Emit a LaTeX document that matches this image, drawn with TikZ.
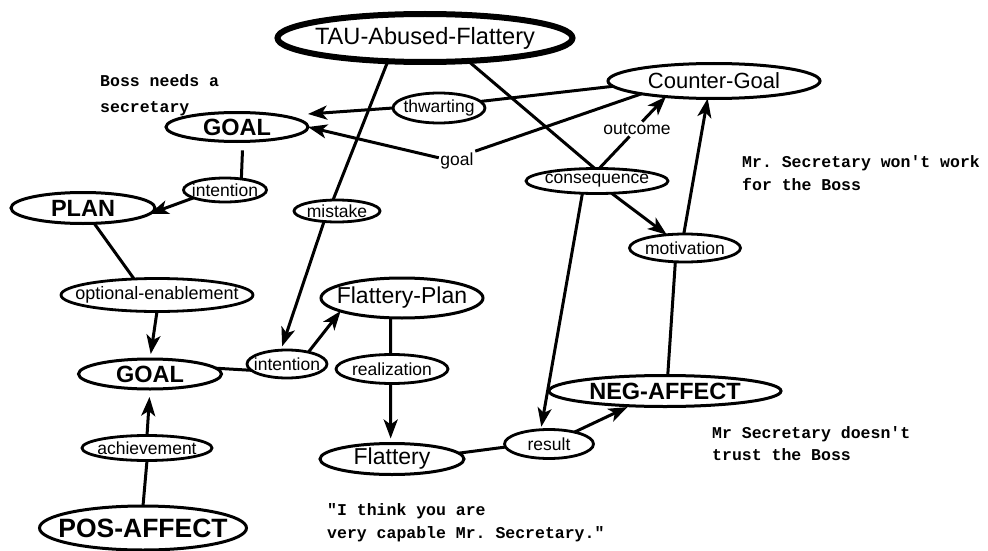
\documentclass[tikz,border=0pt]{standalone}
\usepackage{fontspec}
\setmainfont{Liberation Sans}
\setmonofont{Liberation Mono}
\usetikzlibrary{shapes.geometric,arrows.meta}

% font size shorthand (size in pt)
\newcommand{\fsz}[1]{\fontsize{#1}{#1}\selectfont}
% zero-width label so the ellipse keeps its given size
\newcommand{\nodetext}[1]{\makebox[0pt]{#1}}

\begin{document}
\begin{tikzpicture}[x=1pt,y=-1pt,
  bubble/.style={ellipse, draw, line width=3pt, inner sep=0pt, outer sep=0pt},
  concept/.style={bubble, font=\fsz{23}},
  strong/.style={bubble, font=\bfseries\fsz{23.5}},
  relation/.style={bubble, line width=2.8pt, font=\fsz{17.5}},
  tag/.style={inner sep=1.5pt, font=\fsz{17.5}},
  note/.style={anchor=base west, inner sep=0pt, font=\ttfamily\bfseries\fsz{16.5}},
  link/.style={line width=3pt},
  arrowlink/.style={link, -{Stealth[length=19pt,width=14pt,inset=5pt]}}
]
\fill[white] (0,0) rectangle (988,551);
\useasboundingbox (0,0) rectangle (988,551);

% ---- main concepts ----
\node[concept, line width=6pt, minimum width=295pt, minimum height=48pt, font=\fsz{23.6}]
  (tau) at (425,38) {\nodetext{TAU-Abused-Flattery}};
\node[strong, minimum width=142pt, minimum height=29pt] (goalA) at (237,127) {\nodetext{GOAL}};
\node[strong, minimum width=144pt, minimum height=31pt] (plan) at (83,208) {\nodetext{PLAN}};
\node[relation, minimum width=192pt, minimum height=33pt, font=\fsz{18}] (optEn) at (157,295) {\nodetext{optional-enablement}};
\node[strong, minimum width=143pt, minimum height=30pt] (goalB) at (150,374) {\nodetext{GOAL}};
\node[strong, minimum width=207pt, minimum height=44pt, font=\bfseries\fsz{26.5}] (posAff) at (143,528) {\nodetext{POS-AFFECT}};
\node[concept, minimum width=212pt, minimum height=35pt, font=\fsz{22}] (cg) at (714,81) {\nodetext{Counter-Goal}};
\node[concept, minimum width=162pt, minimum height=40pt] (fplan) at (402,298) {\nodetext{Flattery-Plan}};
\node[concept, minimum width=144pt, minimum height=31pt] (flat) at (392,459) {\nodetext{Flattery}};
\node[strong, minimum width=232pt, minimum height=31pt] (neg) at (665,391) {\nodetext{NEG-AFFECT}};

% ---- relation links ----
\node[relation, minimum width=92pt, minimum height=30pt] (thw) at (439,108) {\nodetext{thwarting}};
\node[relation, minimum width=83pt, minimum height=24pt] (intA) at (225,190) {\nodetext{intention}};
\node[relation, minimum width=86pt, minimum height=22pt] (mist) at (337,211) {\nodetext{mistake}};
\node[relation, minimum width=142pt, minimum height=25pt] (cons) at (597,181) {\nodetext{consequence}};
\node[relation, minimum width=111pt, minimum height=28pt] (motiv) at (685,248) {\nodetext{motivation}};
\node[relation, minimum width=80pt, minimum height=28pt] (intB) at (287,364) {\nodetext{intention}};
\node[relation, minimum width=112pt, minimum height=29pt] (real) at (392,369) {\nodetext{realization}};
\node[relation, minimum width=130pt, minimum height=25pt] (ach) at (147,448) {\nodetext{achievement}};
\node[relation, minimum width=89pt, minimum height=29pt] (res) at (549,444) {\nodetext{result}};

\node[tag] (goalLbl) at (457,161) {goal};
\node[tag] (outc) at (637,129) {outcome};

% ---- annotations ----
\node[note] (n1) at (100,86) {Boss needs a};
\node[note] (n2) at (100,112) {secretary};
\node[note] (n3) at (742,167) {Mr. Secretary won't work};
\node[note] (n4) at (742,190) {for the Boss};
\node[note] (n5) at (712,438) {Mr Secretary doesn't};
\node[note] (n6) at (712,460) {trust the Boss};
\node[note] (n7) at (327,515) {"I think you are};
\node[note] (n8) at (327,538) {very capable Mr. Secretary."};

% ---- connectors ----
\draw[link] (tau.212) -- (mist.110);
\draw[arrowlink, shorten >=4pt] (mist.219) -- (intB.114);
\draw[arrowlink] (intB.29) -- (fplan.192);
\draw[link] (goalB.5) -- (intB.190);
\draw[link, shorten <=9pt] (goalA.-68) -- (intA.34);
\draw[arrowlink] (intA.194) -- (plan.-5);
\draw[link] (plan.-54) -- (optEn.145);
\draw[arrowlink, shorten >=5pt] (optEn.south) -- (goalB.north);
\draw[arrowlink, shorten >=8pt] (ach.north) -- (goalB.south);
\draw[link] (posAff.north) -- (ach.south);
\draw[link] (cg.183) -- (thw.9);
\draw[arrowlink] (thw.west) -- ([yshift=13pt]goalA.east);
\draw[link] (cg.190) -- (goalLbl.north east);
\draw[arrowlink] (goalLbl.170) -- (goalA.east);
\draw[link] (tau.-28) -- (cons.100);
\draw[link] (cons.80) -- (outc.225);
\draw[arrowlink] (outc.55) -- (cg.198);
\draw[arrowlink] (cons.-40) -- (motiv.144);
\draw[arrowlink] (motiv.95) -- (cg.250);
\draw[link] (neg.80) -- (motiv.235);
\draw[arrowlink, shorten >=3pt] (cons.220) -- (res.120);
\draw[link] (flat.5) -- (res.184);
\draw[arrowlink, shorten >=3pt] (res.25) -- (neg.203);
\draw[link] (fplan.240) -- (real.95);
\draw[arrowlink, shorten >=5pt] (real.265) -- (flat.95);
\end{tikzpicture}
\end{document}
